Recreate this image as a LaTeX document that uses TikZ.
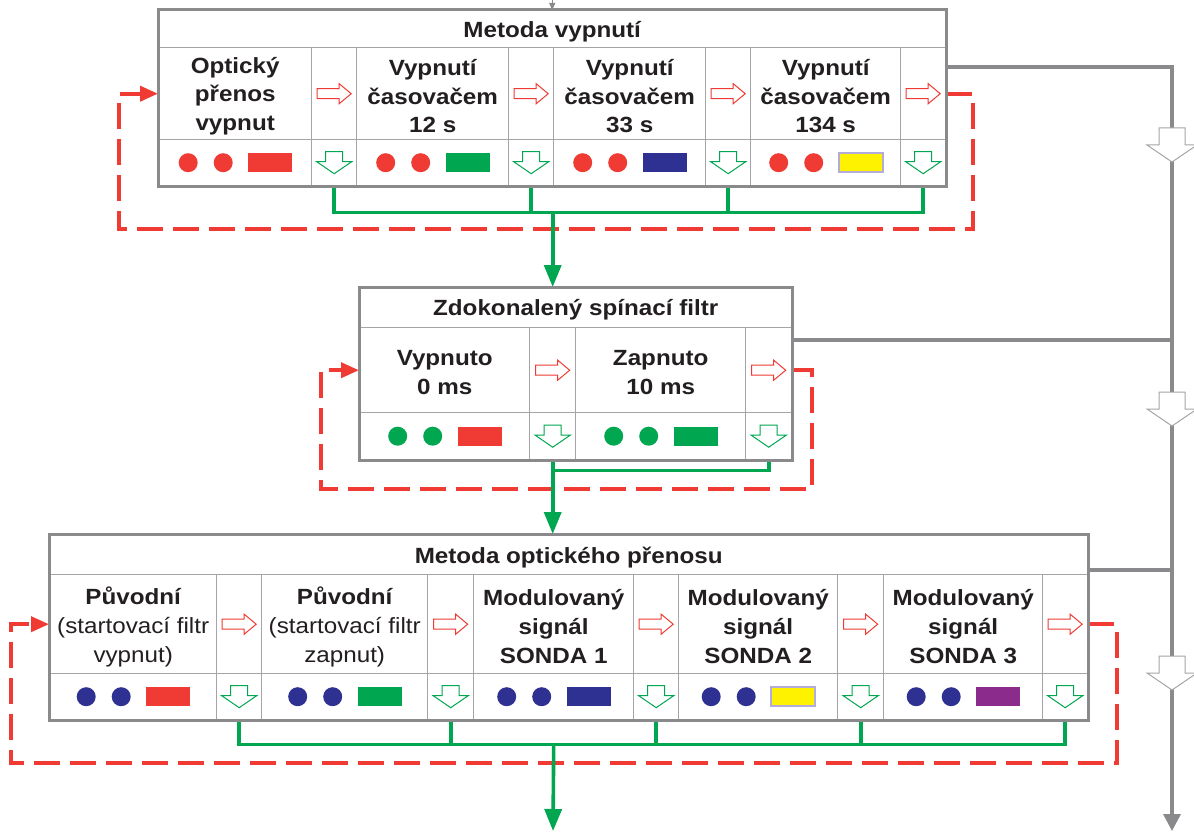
\documentclass[tikz,border=0pt]{standalone}
\usepackage{fontspec}
\setmainfont{Liberation Sans}[FakeStretch=1.1]
\usetikzlibrary{arrows.meta}
\definecolor{gridgrey}{HTML}{A5A5A7}
\definecolor{framegrey}{HTML}{8A8A8D}
\definecolor{cred}{HTML}{EF3B33}
\definecolor{cgreen}{HTML}{00A650}
\definecolor{cblue}{HTML}{2E3192}
\definecolor{cpurple}{HTML}{8B2C8C}
\definecolor{cyellow}{HTML}{FFF200}
\definecolor{clav}{HTML}{B3ACD9}
\definecolor{txt}{HTML}{231F20}
\tikzset{
  cell/.style={draw=gridgrey, line width=1.4pt, fill=white, inner sep=0pt, anchor=north west},
  celltext/.style={inner sep=0pt, align=center, text=txt,
    font=\fontsize{22}{28.8}\selectfont\bfseries},
  frame/.style={draw=framegrey, line width=3pt},
  redarr/.style={draw=cred, line width=1pt, fill=white},
  greenarr/.style={draw=cgreen, line width=1pt, fill=white},
  gline/.style={draw=cgreen, line width=3.6pt},
  garrow/.style={gline, -{Triangle[length=22pt,width=17pt]}},
  rdash/.style={draw=cred, line width=3.8pt, dash pattern=on 26pt off 10pt,
    -{Triangle[length=18pt,width=15pt]}},
  greyline/.style={draw=framegrey, line width=3.5pt},
  bigarr/.style={draw=gridgrey, line width=1pt, fill=white},
  rRed/.style={fill=cred},
  rGreen/.style={fill=cgreen},
  rBlue/.style={fill=cblue},
  rPurple/.style={fill=cpurple},
  rYellow/.style={fill=cyellow, draw=clav, line width=1.8pt},
}
\newcommand\Cell[6]{%
  \node[cell, minimum width={#4pt-#2pt}, minimum height={#5pt-#3pt}] (#1) at (#2,#3) {};
  \node[celltext] (#1x) at ([yshift=-2.5pt]#1.center) {#6};}
\newcommand\Col[8]{%
  \Cell{#1t}{#2}{#5}{#3}{#6}{#8}
  \Cell{#1a}{#3}{#5}{#4}{#6}{}
  \Cell{#1d}{#2}{#6}{#3}{#7}{}
  \Cell{#1g}{#3}{#6}{#4}{#7}{}
  \draw[redarr, shift={(#1a.center)}] (-17,-5) -- (5,-5) -- (5,-10) -- (17,0) -- (5,10) -- (5,5) -- (-17,5) -- cycle;
  \draw[greenarr, shift={(#1g.center)}] (-8.5,-11) -- (8.5,-11) -- (8.5,-1) -- (17.5,-1) -- (0,11) -- (-17.5,-1) -- (-8.5,-1) -- cycle;
}
\newcommand\Dots[3]{%
  \fill[#2, shift={(#1.center)}] (-47,0) circle[radius=9.5] (-12,0) circle[radius=9.5];
  \path[#3, shift={(#1.center)}] (13,-9.5) rectangle (57,9.5);
}
\begin{document}
\begin{tikzpicture}[x=1pt,y=-1pt]
\useasboundingbox (0,0) rectangle (1194,832);
\fill[white] (0,0) rectangle (1194,832);

% ---------- box 1 ----------
\Cell{A0}{158}{10}{945}{47}{Metoda vypnutí}
\Col{A1}{158}{311}{356}{47}{139}{185}{Optický\\přenos\\vypnut}
\Col{A2}{356}{508}{553}{47}{139}{185}{Vypnutí\\časovačem\\12 s}
\Col{A3}{553}{705}{750}{47}{139}{185}{Vypnutí\\časovačem\\33 s}
\Col{A4}{750}{900}{945}{47}{139}{185}{Vypnutí\\časovačem\\134 s}
\Dots{A1d}{cred}{rRed}
\Dots{A2d}{cred}{rGreen}
\Dots{A3d}{cred}{rBlue}
\Dots{A4d}{cred}{rYellow}

% ---------- box 2 ----------
\Cell{B0}{359}{287}{791}{327}{Zdokonalený spínací filtr}
\Col{B1}{359}{529}{575}{327}{412}{459}{Vypnuto\\0 ms}
\Col{B2}{575}{745}{791}{327}{412}{459}{Zapnuto\\10 ms}
\Dots{B1d}{cgreen}{rRed}
\Dots{B2d}{cgreen}{rGreen}

% ---------- box 3 ----------
\Cell{C0}{49}{534}{1087}{574}{Metoda optického přenosu}
\Col{C1}{49}{216}{261}{574}{673}{719}{Původní\\\mdseries(startovací filtr\\\mdseries vypnut)}
\Col{C2}{261}{427}{473}{574}{673}{719}{Původní\\\mdseries(startovací filtr\\\mdseries zapnut)}
\Col{C3}{473}{633}{678}{574}{673}{719}{Modulovaný\\signál\\SONDA 1}
\Col{C4}{678}{837}{883}{574}{673}{719}{Modulovaný\\signál\\SONDA 2}
\Col{C5}{883}{1042}{1087}{574}{673}{719}{Modulovaný\\signál\\SONDA 3}
\Dots{C1d}{cblue}{rRed}
\Dots{C2d}{cblue}{rGreen}
\Dots{C3d}{cblue}{rBlue}
\Dots{C4d}{cblue}{rYellow}
\Dots{C5d}{cblue}{rPurple}

% ---------- coordinates ----------
\coordinate (ztop) at (0,-2);
\coordinate (ar) at (973,229);
\coordinate (al) at (119,229);
\coordinate (br) at (812,489);
\coordinate (bl) at (321,489);
\coordinate (cr) at (1117,763);
\coordinate (cl) at (11,763);
\coordinate (rtop) at (1172,67);
\coordinate (rbot) at (1172,831);
\coordinate (y2) at (0,340);
\coordinate (y3) at (0,570);
\coordinate (gend) at (553,831);

% ---------- red feedback loops ----------
\draw[rdash] (A4a.east) -| (ar) -- (al) |- (A1t.west);
\draw[rdash] (B2a.east) -| (br) -- (bl) |- (B1t.west);
\draw[rdash] (C5a.east) -| (cr) -- (cl) |- (C1t.west);

% ---------- green buses ----------
\draw[gline] (A1g.south) -- ++(0,26) coordinate (ga) -| (A4g.south);
\draw[gline] (A2g.south) -- (A2g.south |- ga);
\draw[gline] (A3g.south) -- (A3g.south |- ga);
\draw[garrow] (ga -| B1a) -- (B1a |- B0.north);

\draw[gline] (B2g.south) -- ++(0,10) coordinate (gb) -- (gb -| B1g.south);
\draw[garrow] (B1g.south) -- (B1g.south |- C0.north);

\draw[gline] (C1g.south) -- ++(0,24) coordinate (gc) -| (C5g.south);
\draw[gline] (C2g.south) -- (C2g.south |- gc);
\draw[gline] (C3g.south) -- (C3g.south |- gc);
\draw[gline] (C4g.south) -- (C4g.south |- gc);
\draw[garrow] (gc -| C3t) -- (gend);

% ---------- grey lines ----------
\draw[draw=framegrey, line width=1pt, -{Triangle[length=7pt,width=6pt]}] (A0.north |- ztop) -- (A0.north);
\draw[greyline, -{Triangle[length=17pt,width=17pt]}] (A4a.east |- rtop) -| (rbot);
\draw[greyline] (B2a.east |- y2) -- (rtop |- y2);
\draw[greyline] (C0.east |- y3) -- (rtop |- y3);
\foreach \yy in {128,392,656}
  \draw[bigarr, shift={(1172,\yy)}] (-13,0) -- (13,0) -- (13,17) -- (25,17) -- (0,34) -- (-25,17) -- (-13,17) -- cycle;

% ---------- frames ----------
\draw[frame] (A0.north west) rectangle (A4g.south east);
\draw[frame] (B0.north west) rectangle (B2g.south east);
\draw[frame] (C0.north west) rectangle (C5g.south east);
\end{tikzpicture}
\end{document}
